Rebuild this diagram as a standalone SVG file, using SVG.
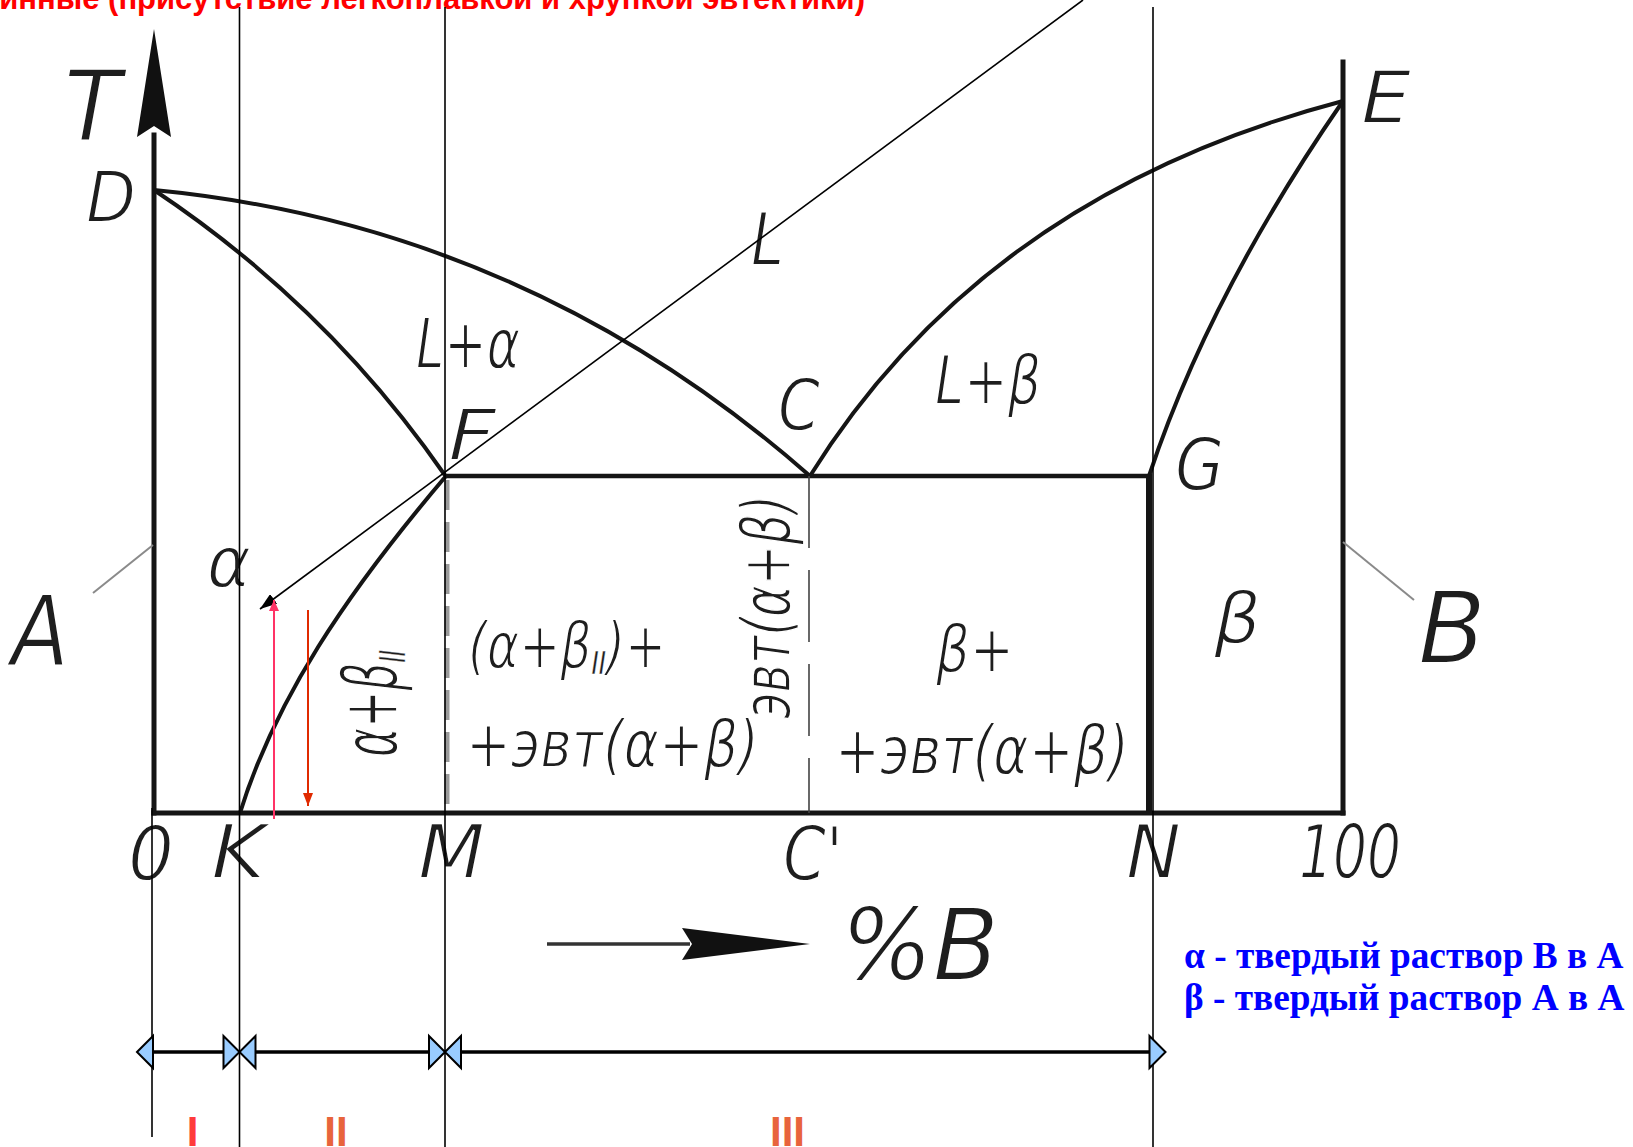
<svg xmlns="http://www.w3.org/2000/svg" width="1633" height="1147" viewBox="0 0 1633 1147">
<style>
.g{font-family:"DejaVu Sans","Liberation Sans",sans-serif;font-weight:200;font-style:italic;fill:#1e1e1e;stroke:#fff;stroke-width:1.8}
.sub{stroke-width:0.3}
.ax{stroke:#151515;stroke-width:5;fill:none;stroke-linecap:square}
.cv{stroke:#151515;stroke-width:4;fill:none}
.thin{stroke:#000;stroke-width:1.6;fill:none}
.lead{stroke:#8a8a8a;stroke-width:2;fill:none}
.dim{fill:#99ccff;stroke:#000;stroke-width:2;stroke-linejoin:miter}
.leg{font-family:"Liberation Serif",serif;font-weight:bold;font-size:37.3px;fill:#0000ff}
.rom{font-family:"Liberation Sans",sans-serif;font-weight:bold;font-size:42px;text-anchor:middle}
</style>
<defs>
<marker id="arrBlack" markerUnits="userSpaceOnUse" markerWidth="18" markerHeight="12" refX="17" refY="6" orient="auto"><path d="M0,0 L17,6 L0,12 z" fill="#000"/></marker>
<marker id="arrPink" markerUnits="userSpaceOnUse" markerWidth="12" markerHeight="10" refX="11" refY="5" orient="auto"><path d="M0,0 L11,5 L0,10 z" fill="#ff3366"/></marker>
<marker id="arrRed" markerUnits="userSpaceOnUse" markerWidth="14" markerHeight="10" refX="13" refY="5" orient="auto"><path d="M0,0 L13,5 L0,10 z" fill="#e02a00"/></marker>
</defs>
<rect width="1633" height="1147" fill="#fff"/>

<text id="title" x="865" y="8.5" text-anchor="end" font-family="Liberation Sans, sans-serif" font-weight="bold" font-size="31" fill="#ff0000">инные (присутствие легкоплавкой и хрупкой эвтектики)</text>

<g id="axes">
<line class="ax" x1="154" y1="813" x2="154" y2="135"/>
<polygon points="154,29 171,137 154,126 137,137" fill="#111"/>
<line class="ax" x1="154" y1="813" x2="1343" y2="813"/>
<line class="ax" x1="1343" y1="62" x2="1343" y2="813"/>
<line x1="547" y1="944" x2="690" y2="944" stroke="#333" stroke-width="3.5"/>
<polygon points="682,928 810,944 682,960 692,944" fill="#111"/>
</g>

<g id="phase-lines">
<path class="cv" d="M154,190 Q526,226 810,476"/>
<path class="cv" d="M154,190 Q328,306 445.5,476"/>
<path class="cv" d="M240,813 C275,700 345,595 446,476"/>
<path class="cv" d="M810,476 Q985,195 1343,101"/>
<path class="cv" d="M1343,101 Q1209,295 1149,476"/>
<line x1="445" y1="476" x2="1149" y2="476" stroke="#151515" stroke-width="4.5"/>
<line x1="1149" y1="474" x2="1149" y2="813" stroke="#151515" stroke-width="6"/>
<line x1="447" y1="480" x2="447" y2="813" stroke="#9a9a9a" stroke-width="5" stroke-dasharray="30 12"/>
<line x1="809" y1="476" x2="809" y2="813" stroke="#444" stroke-width="1.6" stroke-dasharray="72 22"/>
<line class="lead" x1="93" y1="593" x2="153" y2="545"/>
<line class="lead" x1="1343" y1="542" x2="1414" y2="600"/>
</g>

<g id="labels">
<text class="g" x="64" y="140" font-size="98" textLength="57" lengthAdjust="spacingAndGlyphs">T</text>
<text class="g" x="86" y="222" font-size="72" textLength="50" lengthAdjust="spacingAndGlyphs">D</text>
<text class="g" x="416" y="368" font-size="70" textLength="104" lengthAdjust="spacingAndGlyphs">L+α</text>
<text class="g" x="448" y="460" font-size="72" textLength="48" lengthAdjust="spacingAndGlyphs">F</text>
<text class="g" x="751" y="265" font-size="73" textLength="33" lengthAdjust="spacingAndGlyphs">L</text>
<text class="g" x="778" y="430" font-size="72" textLength="42" lengthAdjust="spacingAndGlyphs">C</text>
<text class="g" x="935" y="404" font-size="68" textLength="106" lengthAdjust="spacingAndGlyphs">L+β</text>
<text class="g" x="1361" y="123" font-size="73" textLength="50" lengthAdjust="spacingAndGlyphs">E</text>
<text class="g" x="1175" y="490" font-size="73" textLength="49" lengthAdjust="spacingAndGlyphs">G</text>
<text class="g" x="207" y="587" font-size="72" textLength="44" lengthAdjust="spacingAndGlyphs">α</text>
<text class="g" x="11" y="665" font-size="98" textLength="58" lengthAdjust="spacingAndGlyphs">A</text>
<text class="g" x="1418" y="663" font-size="100" textLength="68" lengthAdjust="spacingAndGlyphs">B</text>
<text class="g" x="1214" y="643" font-size="72" textLength="47" lengthAdjust="spacingAndGlyphs">β</text>
<text class="g" x="468" y="668" font-size="64" textLength="198" lengthAdjust="spacingAndGlyphs">(α+β<tspan class="sub" font-size="32" dy="6">II</tspan><tspan dy="-6">)+</tspan></text>
<text class="g" x="466" y="767" font-size="66" textLength="293" lengthAdjust="spacingAndGlyphs">+эвт(α+β)</text>
<text class="g" x="936" y="672" font-size="66" textLength="78" lengthAdjust="spacingAndGlyphs">β+</text>
<text class="g" x="835" y="774" font-size="67" textLength="294" lengthAdjust="spacingAndGlyphs">+эвт(α+β)</text>
<text class="g" transform="translate(790,719) rotate(-90)" font-size="68" textLength="224" lengthAdjust="spacingAndGlyphs">эвт(α+β)</text>
<text class="g" transform="translate(397,757) rotate(-90)" font-size="76" textLength="107" lengthAdjust="spacingAndGlyphs">α+β<tspan class="sub" font-size="36" dy="8">II</tspan></text>
<text class="g" x="128" y="880" font-size="74" textLength="46" lengthAdjust="spacingAndGlyphs">0</text>
<text class="g" x="211" y="878" font-size="74" textLength="55" lengthAdjust="spacingAndGlyphs">K</text>
<text class="g" x="418" y="878" font-size="74" textLength="67" lengthAdjust="spacingAndGlyphs">M</text>
<text class="g" x="783" y="880" font-size="74" textLength="60" lengthAdjust="spacingAndGlyphs">C'</text>
<text class="g" x="1126" y="878" font-size="74" textLength="55" lengthAdjust="spacingAndGlyphs">N</text>
<text class="g" x="1299" y="878" font-size="74" textLength="102" lengthAdjust="spacingAndGlyphs">100</text>
<text class="g" x="841" y="980" font-size="100" textLength="158" lengthAdjust="spacingAndGlyphs">%B</text>
</g>

<g id="connectors">
<line class="thin" x1="239.5" y1="7" x2="239.5" y2="1147"/>
<line class="thin" x1="445" y1="7" x2="445" y2="1147"/>
<line class="thin" x1="1153" y1="7" x2="1153" y2="1147"/>
<line class="thin" x1="152" y1="808" x2="152" y2="1137"/>
<line x1="1083" y1="0" x2="260" y2="609" stroke="#000" stroke-width="1.6" marker-end="url(#arrBlack)"/>
<line x1="274" y1="819" x2="274" y2="600" stroke="#ff3366" stroke-width="2" marker-end="url(#arrPink)"/>
<line x1="308" y1="610" x2="308" y2="806" stroke="#e02a00" stroke-width="2" marker-end="url(#arrRed)"/>
</g>

<g id="dimension">
<line x1="153" y1="1052" x2="1150" y2="1052" stroke="#000" stroke-width="3.5"/>
<polygon class="dim" points="137,1052 153,1036 153,1068"/>
<polygon class="dim" points="223.5,1036 239.5,1052 223.5,1068"/>
<polygon class="dim" points="255.5,1036 239.5,1052 255.5,1068"/>
<polygon class="dim" points="429,1036 445,1052 429,1068"/>
<polygon class="dim" points="461,1036 445,1052 461,1068"/>
<polygon class="dim" points="1149.5,1036 1165.5,1052 1149.5,1068"/>
<text class="rom" x="192.5" y="1146" fill="#ff3b3b">I</text>
<text class="rom" x="336" y="1146" fill="#e8643c">II</text>
<text class="rom" x="787.5" y="1146" fill="#e8643c">III</text>
</g>

<g id="legend">
<text class="leg" x="1184" y="968">α - твердый раствор В в А</text>
<text class="leg" x="1184" y="1010">β - твердый раствор А в А</text>
</g>
</svg>
